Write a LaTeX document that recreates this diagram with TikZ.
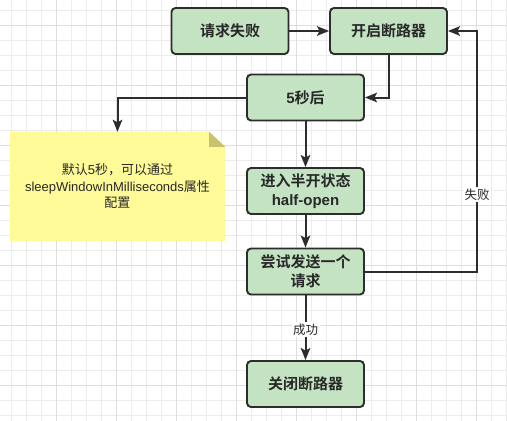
\documentclass[tikz,border=0pt]{standalone}
\usepackage{fontspec}
\setmainfont{Noto Sans CJK SC}[BoldFont={Noto Sans CJK SC Bold}]
\newfontfamily\lat{Liberation Sans}
\usetikzlibrary{arrows.meta,backgrounds}
\definecolor{boxfill}{RGB}{196,227,195}
\definecolor{linecol}{RGB}{45,45,45}
\definecolor{textcol}{RGB}{40,40,40}
\definecolor{notefill}{RGB}{255,250,152}
\definecolor{foldcol}{RGB}{200,194,110}
\definecolor{gridminor}{RGB}{236,236,236}
\definecolor{gridmajor}{RGB}{222,222,222}
\tikzset{
  stepbox/.style={draw=linecol, line width=1.9pt, fill=boxfill, rounded corners=4pt,
    minimum width=117pt, minimum height=46pt, inner sep=0pt, align=center,
    text=textcol, font=\fontsize{15}{19}\selectfont\bfseries},
  notebox/.style={minimum width=215pt, minimum height=109pt, inner sep=0pt, align=center,
    text=textcol, font=\fontsize{13}{16.5}\selectfont},
  conn/.style={draw=linecol, line width=2pt, -{Stealth[length=12pt,width=9.5pt,inset=2.5pt]}},
  lab/.style={fill=white, inner sep=1.5pt, text=textcol, font=\fontsize{12.5}{15}\selectfont},
  gminor/.style={draw=gridminor, line width=0.9pt},
  gmajor/.style={draw=gridmajor, line width=0.9pt}
}
\begin{document}
\begin{tikzpicture}[x=1pt,y=-1pt]
\useasboundingbox (0,0) rectangle (507,421);

% boxes
\node[stepbox] (b1) at (230,31) {请求失败};
\node[stepbox] (b2) at (388.5,31) {开启断路器};
\node[stepbox] (b3) at (305.5,97.5) {{\lat 5}秒后};
\node[stepbox] (b4) at (305.5,191) {进入半开状态\\{\lat half-open}};
\node[stepbox] (b5) at (305.5,271.5) {尝试发送一个\\请求};
\node[stepbox] (b6) at (305.5,384) {关闭断路器};

% note
\node[notebox] (note) at (117.5,186.5) {默认{\lat 5}秒，可以通过\\{\lat sleepWindowInMilliseconds}属性\\配置};

\begin{scope}[on background layer]
\fill[white] (0,0) rectangle (507,421);
\foreach \k in {0,...,33} {\draw[gminor] ({11.7+15*\k},0) -- ({11.7+15*\k},421);}
\foreach \k in {0,...,27} {\draw[gminor] (0,{10.7+15*\k}) -- (507,{10.7+15*\k});}
\foreach \k in {0,...,7} {\draw[gmajor] ({56.7+60*\k},0) -- ({56.7+60*\k},421);}
\foreach \k in {0,...,6} {\draw[gmajor] (0,{25.7+60*\k}) -- (507,{25.7+60*\k});}
\fill[notefill] (note.south west) -- (note.north west) -- ([xshift=-16pt]note.north east)
  -- ([yshift=-15pt]note.north east) -- (note.south east) -- cycle;
\fill[foldcol] ([xshift=-16pt]note.north east) -- ([yshift=-15pt]note.north east)
  -- ([xshift=-16pt,yshift=-15pt]note.north east) -- cycle;
\end{scope}

% connectors
\coordinate (c1) at (477,271.5);
\coordinate (c2) at (477,31);
\draw[conn] (b1) -- (b2);
\draw[conn] (b2.south) |- (b3.east);
\draw[conn] (b3.west) -| (note.north);
\draw[conn] (b3) -- (b4);
\draw[conn] (b4) -- (b5);
\draw[conn] (b5) -- node[lab, pos=0.53]{成功} (b6);
\draw[conn] (b5.east) -- (c1) -- node[lab, pos=0.32]{失败} (c2) -- (b2.east);
\end{tikzpicture}
\end{document}
